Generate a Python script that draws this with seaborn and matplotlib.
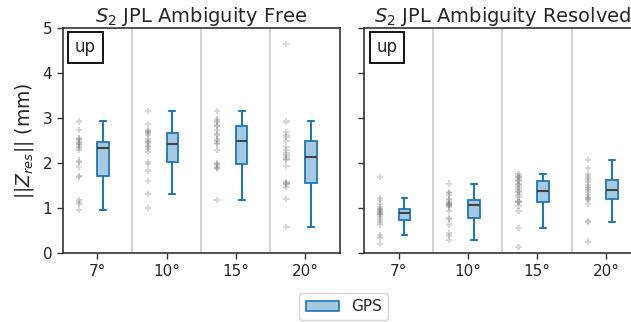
import numpy as np
import pandas as pd
import matplotlib
matplotlib.use("Agg")
import matplotlib.pyplot as plt
import seaborn as sns
from matplotlib.patches import Patch

elevations = ["7°", "10°", "15°", "20°"]
panel_titles = [r"$S_2$ JPL Ambiguity Free", r"$S_2$ JPL Ambiguity Resolved"]

free_7 = [0.96, 1.09, 1.13, 1.19, 1.69, 1.71, 1.91, 2.03, 2.06, 2.30, 2.35,
          2.36, 2.40, 2.42, 2.46, 2.48, 2.52, 2.55, 2.56, 2.74, 2.93]
free_10 = [1.00, 1.32, 1.60, 1.84, 1.98, 2.03, 2.26, 2.32, 2.36, 2.39, 2.44,
           2.47, 2.50, 2.54, 2.64, 2.68, 2.69, 2.72, 2.74, 2.87, 3.17]
free_15 = [1.19, 1.87, 1.89, 1.92, 1.97, 1.99, 2.01, 2.30, 2.42, 2.45, 2.49,
           2.53, 2.62, 2.66, 2.74, 2.83, 2.84, 2.92, 2.95, 2.99, 3.17]
free_20 = [0.59, 1.20, 1.47, 1.53, 1.55, 1.57, 1.58, 1.94, 2.07, 2.10, 2.14,
           2.18, 2.22, 2.30, 2.37, 2.50, 2.58, 2.62, 2.69, 2.93, 4.65]

res_7 = [0.20, 0.35, 0.41, 0.64, 0.70, 0.74, 0.78, 0.84, 0.87, 0.88, 0.90,
         0.92, 0.94, 0.96, 0.98, 0.99, 1.03, 1.10, 1.18, 1.22, 1.70]
res_10 = [0.30, 0.38, 0.44, 0.64, 0.76, 0.79, 0.95, 1.02, 1.05, 1.07, 1.08,
          1.09, 1.10, 1.12, 1.15, 1.18, 1.20, 1.30, 1.33, 1.36, 1.55]
res_15 = [0.14, 0.57, 0.94, 1.05, 1.14, 1.14, 1.16, 1.25, 1.30, 1.36, 1.38,
          1.42, 1.47, 1.52, 1.55, 1.60, 1.62, 1.68, 1.70, 1.72, 1.76]
res_20 = [0.26, 0.70, 0.72, 1.10, 1.18, 1.21, 1.22, 1.25, 1.30, 1.36, 1.40,
          1.44, 1.48, 1.52, 1.58, 1.63, 1.68, 1.71, 1.76, 1.90, 2.08]

panels = [[free_7, free_10, free_15, free_20], [res_7, res_10, res_15, res_20]]

sns.set_style("white")
plt.rcParams["font.family"] = ["DejaVu Sans"]
plt.rcParams["mathtext.fontset"] = "dejavusans"

blue = "#1f77b4"
face = (0.12, 0.47, 0.71, 0.4)

fig, axes = plt.subplots(1, 2, figsize=(6.31, 3.22), dpi=100, sharey=True)
fig.subplots_adjust(left=0.0994, right=1.0155, top=0.912, bottom=0.2134, wspace=0.0885)

for ax, series, title in zip(axes, panels, panel_titles):
    rows = []
    for el, vals in zip(elevations, series):
        for v in vals:
            rows.append({"elev": el, "val": v, "grp": "GPS"})
    df = pd.DataFrame(rows)

    sns.stripplot(data=df, x="elev", y="val", hue="grp", order=elevations,
                  hue_order=["GPS", "_a", "_b"], dodge=True, jitter=False,
                  palette={"GPS": "gray", "_a": "gray", "_b": "gray"},
                  marker="P", size=4.5, alpha=0.3, linewidth=0,
                  legend=False, ax=ax)

    sns.boxplot(data=df, x="elev", y="val", hue="grp", order=elevations,
                hue_order=["_n", "GPS"], dodge=True, width=0.34, gap=0,
                palette={"GPS": blue, "_n": blue}, showfliers=False,
                whis=1.5, linewidth=1.3, legend=False, ax=ax,
                boxprops=dict(facecolor=face, edgecolor=blue),
                whiskerprops=dict(color=blue, linewidth=1.5),
                capprops=dict(color=blue, linewidth=1.5),
                medianprops=dict(color="#444444", linewidth=1.5))

    for b in [0.5, 1.5, 2.5]:
        ax.axvline(b, color="#d0d0d0", linewidth=1.3, zorder=0)

    ax.set_xlim(-0.5, 3.5)
    ax.set_ylim(0, 5)
    ax.set_xlabel("")
    ax.set_ylabel("")
    ax.set_title(title, fontsize=14, pad=3)
    ax.tick_params(axis="both", which="both", direction="out", length=4,
                   width=1, labelsize=11, bottom=True, left=True, color="#333333")
    for s in ax.spines.values():
        s.set_visible(True)
        s.set_color("#333333")
        s.set_linewidth(1.2)
    ax.text(0.044, 0.955, "up", transform=ax.transAxes, fontsize=12,
            ha="left", va="top",
            bbox=dict(boxstyle="square,pad=0.4", facecolor="white",
                      edgecolor="black", linewidth=1.3))

axes[0].set_yticks([0, 1, 2, 3, 4, 5])
axes[0].set_ylabel(r"$||Z_{res}||$ (mm)", fontsize=13.5, labelpad=5)

handle = Patch(facecolor=face, edgecolor=blue, linewidth=1.2, label="GPS")
fig.legend(handles=[handle], loc="center", bbox_to_anchor=(0.545, 0.047),
           fontsize=11, frameon=True, edgecolor="#cccccc", handlelength=2.2)

fig.savefig("out.png", dpi=100)
